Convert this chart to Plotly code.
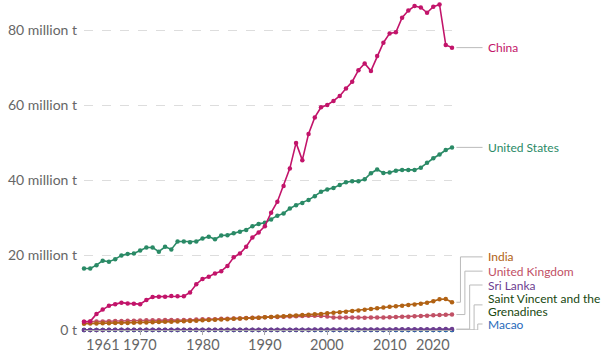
import plotly.graph_objects as go

years = list(range(1961, 2021))

china = [2.2, 2.3, 4.3, 5.5, 6.5, 6.9, 7.3, 7.1, 7.0, 6.9,
         8.0, 8.8, 8.9, 8.9, 9.1, 9.0, 9.0, 10.0, 12.2, 13.6,
         14.2, 15.1, 15.7, 17.1, 19.4, 20.4, 22.2, 24.7, 26.0, 27.7,
         31.3, 34.2, 38.4, 43.1, 49.9, 45.3, 52.3, 56.7, 59.4, 60.0,
         61.1, 62.4, 64.4, 66.2, 69.3, 71.1, 69.1, 73.1, 76.6, 79.1,
         79.4, 83.3, 85.2, 86.4, 86.0, 84.6, 86.2, 86.8, 76.0, 75.3]

united_states = [16.4, 16.4, 17.3, 18.5, 18.2, 18.9, 19.9, 20.3, 20.4, 21.2,
                 22.0, 22.0, 20.9, 22.2, 21.5, 23.6, 23.6, 23.4, 23.6, 24.4,
                 24.9, 24.2, 25.2, 25.3, 25.8, 26.2, 26.7, 27.7, 28.3, 28.6,
                 29.5, 30.5, 31.1, 32.4, 33.3, 33.9, 34.7, 35.7, 36.9, 37.5,
                 37.9, 38.7, 39.4, 39.7, 39.7, 40.2, 41.8, 42.8, 41.9, 42.0,
                 42.5, 42.7, 42.7, 42.7, 43.3, 44.6, 45.8, 46.8, 48.0, 48.7]

india = [1.70, 1.72, 1.75, 1.78, 1.81, 1.84, 1.87, 1.90, 1.94, 1.98,
         2.02, 2.07, 2.12, 2.17, 2.22, 2.28, 2.35, 2.42, 2.50, 2.58,
         2.66, 2.74, 2.82, 2.90, 2.98, 3.06, 3.14, 3.22, 3.30, 3.40,
         3.50, 3.60, 3.70, 3.80, 3.90, 4.00, 4.10, 4.20, 4.30, 4.45,
         4.60, 4.75, 4.90, 5.05, 5.20, 5.40, 5.60, 5.80, 6.00, 6.20,
         6.35, 6.50, 6.65, 6.80, 7.00, 7.25, 7.70, 8.20, 8.25, 7.40]

united_kingdom = [2.20, 2.25, 2.28, 2.30, 2.35, 2.38, 2.40, 2.45, 2.48, 2.52,
                  2.60, 2.62, 2.58, 2.68, 2.70, 2.62, 2.66, 2.70, 2.78, 2.85,
                  2.85, 2.90, 2.98, 2.98, 3.05, 3.10, 3.20, 3.28, 3.30, 3.40,
                  3.45, 3.50, 3.55, 3.62, 3.68, 3.75, 3.78, 3.80, 3.75, 3.60,
                  3.35, 3.35, 3.33, 3.36, 3.32, 3.30, 3.36, 3.35, 3.32, 3.42,
                  3.50, 3.52, 3.55, 3.65, 3.72, 3.82, 3.92, 4.00, 4.05, 4.12]

sri_lanka = [0.030, 0.031, 0.032, 0.033, 0.034, 0.035, 0.036, 0.037, 0.038, 0.039,
             0.040, 0.040, 0.041, 0.041, 0.042, 0.043, 0.044, 0.046, 0.048, 0.050,
             0.052, 0.054, 0.056, 0.058, 0.060, 0.062, 0.064, 0.066, 0.068, 0.070,
             0.074, 0.078, 0.082, 0.086, 0.090, 0.094, 0.098, 0.102, 0.106, 0.110,
             0.115, 0.120, 0.125, 0.130, 0.135, 0.140, 0.145, 0.150, 0.155, 0.160,
             0.170, 0.180, 0.190, 0.200, 0.210, 0.220, 0.230, 0.235, 0.240, 0.245]

saint_vincent = [0.0005, 0.0005, 0.0005, 0.0005, 0.0005, 0.0005, 0.0005, 0.0005, 0.0005, 0.0005,
                 0.0006, 0.0006, 0.0006, 0.0006, 0.0006, 0.0006, 0.0006, 0.0007, 0.0007, 0.0007,
                 0.0007, 0.0007, 0.0008, 0.0008, 0.0008, 0.0008, 0.0009, 0.0009, 0.0009, 0.0009,
                 0.0010, 0.0010, 0.0010, 0.0010, 0.0010, 0.0010, 0.0010, 0.0010, 0.0010, 0.0010,
                 0.0010, 0.0010, 0.0010, 0.0010, 0.0009, 0.0009, 0.0009, 0.0009, 0.0009, 0.0009,
                 0.0009, 0.0009, 0.0009, 0.0009, 0.0009, 0.0009, 0.0009, 0.0009, 0.0009, 0.0009]

macao = [0.006, 0.006, 0.006, 0.006, 0.006, 0.007, 0.007, 0.007, 0.007, 0.007,
         0.008, 0.008, 0.008, 0.008, 0.008, 0.009, 0.009, 0.009, 0.009, 0.009,
         0.010, 0.010, 0.010, 0.010, 0.010, 0.011, 0.011, 0.011, 0.011, 0.011,
         0.012, 0.012, 0.012, 0.012, 0.012, 0.012, 0.012, 0.012, 0.012, 0.012,
         0.012, 0.012, 0.012, 0.012, 0.012, 0.012, 0.012, 0.012, 0.012, 0.012,
         0.012, 0.012, 0.012, 0.012, 0.012, 0.012, 0.012, 0.012, 0.012, 0.012]

y_tick_vals = [0, 20, 40, 60, 80]
y_tick_text = ["0 t", "20 million t", "40 million t", "60 million t", "80 million t"]
x_tick_vals = [1961, 1970, 1980, 1990, 2000, 2010, 2020]
x_tick_text = ["1961", "1970", "1980", "1990", "2000", "2010", "2020"]

# (name, values, colour, label lines, label y in data units, elbow x in paper units)
series = [
    ("Saint Vincent and the Grenadines", saint_vincent, "#18470F",
     ["Saint Vincent and the", "Grenadines"], 6.7, 1.060),
    ("Macao", macao, "#286BBB", ["Macao"], 1.6, 1.070),
    ("Sri Lanka", sri_lanka, "#6D3E91", ["Sri Lanka"], 12.0, 1.048),
    ("United Kingdom", united_kingdom, "#C15065", ["United Kingdom"], 15.7, 1.035),
    ("India", india, "#B16214", ["India"], 19.5, 1.023),
    ("United States", united_states, "#2A8A66", ["United States"], None, None),
    ("China", china, "#C2146A", ["China"], None, None),
]

FONT = "Lato, 'Open Sans', sans-serif"
LINE_GAP = 3.3  # data units between wrapped label lines

fig = go.Figure()
shapes = []
annotations = []
for name, vals, color, lines, label_y, elbow in series:
    fig.add_trace(go.Scatter(
        x=years, y=vals, mode="lines+markers", name=name,
        line=dict(color=color, width=1.6),
        marker=dict(color=color, size=4.5),
        cliponaxis=False, showlegend=False,
    ))
    end_y = vals[-1]
    ly = end_y if label_y is None else label_y
    if elbow is None:
        segs = [(1.012, end_y, 1.083, end_y)]
    else:
        segs = [(1.012, end_y, elbow, end_y),
                (elbow, end_y, elbow, ly),
                (elbow, ly, 1.083, ly)]
    for (xa, ya, xb, yb) in segs:
        shapes.append(dict(type="line", xref="paper", yref="y",
                           x0=xa, x1=xb, y0=ya, y1=yb,
                           line=dict(color="#bbbbbb", width=1)))
    n = len(lines)
    for i, txt in enumerate(lines):
        yy = ly + (n - 1) / 2 * LINE_GAP - i * LINE_GAP
        annotations.append(dict(
            xref="paper", yref="y", x=1.092, y=yy, text=txt,
            showarrow=False, xanchor="left", yanchor="middle", align="left",
            font=dict(family=FONT, size=12, color=color),
        ))

for v, t in zip(x_tick_vals, x_tick_text):
    anchor = "left" if v == x_tick_vals[0] else ("right" if v == x_tick_vals[-1] else "center")
    annotations.append(dict(
        xref="x", yref="paper", x=v, y=0, yanchor="top", yshift=-4,
        xanchor=anchor, text=t, showarrow=False,
        font=dict(family=FONT, size=14.5, color="#666666"),
    ))

fig.update_layout(
    width=609, height=359,
    margin=dict(l=84, r=157, t=0, b=29),
    paper_bgcolor="white", plot_bgcolor="white",
    shapes=shapes, annotations=annotations,
    font=dict(family=FONT, color="#666666"),
)
fig.update_xaxes(
    range=[1961, 2020], showgrid=False, zeroline=False,
    showline=True, linecolor="#aaaaaa", linewidth=1,
    tickvals=x_tick_vals[1:-1], ticks="outside", ticklen=4, tickcolor="#aaaaaa",
    showticklabels=False,
)
fig.update_yaxes(
    range=[0, 88], tickvals=y_tick_vals, ticktext=y_tick_text,
    showgrid=True, gridcolor="#dddddd", griddash="dash", gridwidth=1,
    zeroline=False, showline=False, ticks="",
    tickfont=dict(family=FONT, size=14, color="#666666"),
    ticklabelstandoff=6,
)

fig.write_html("out.html", config={"displayModeBar": False},
               post_script="document.body.style.margin='0px';document.body.style.padding='0px';")
